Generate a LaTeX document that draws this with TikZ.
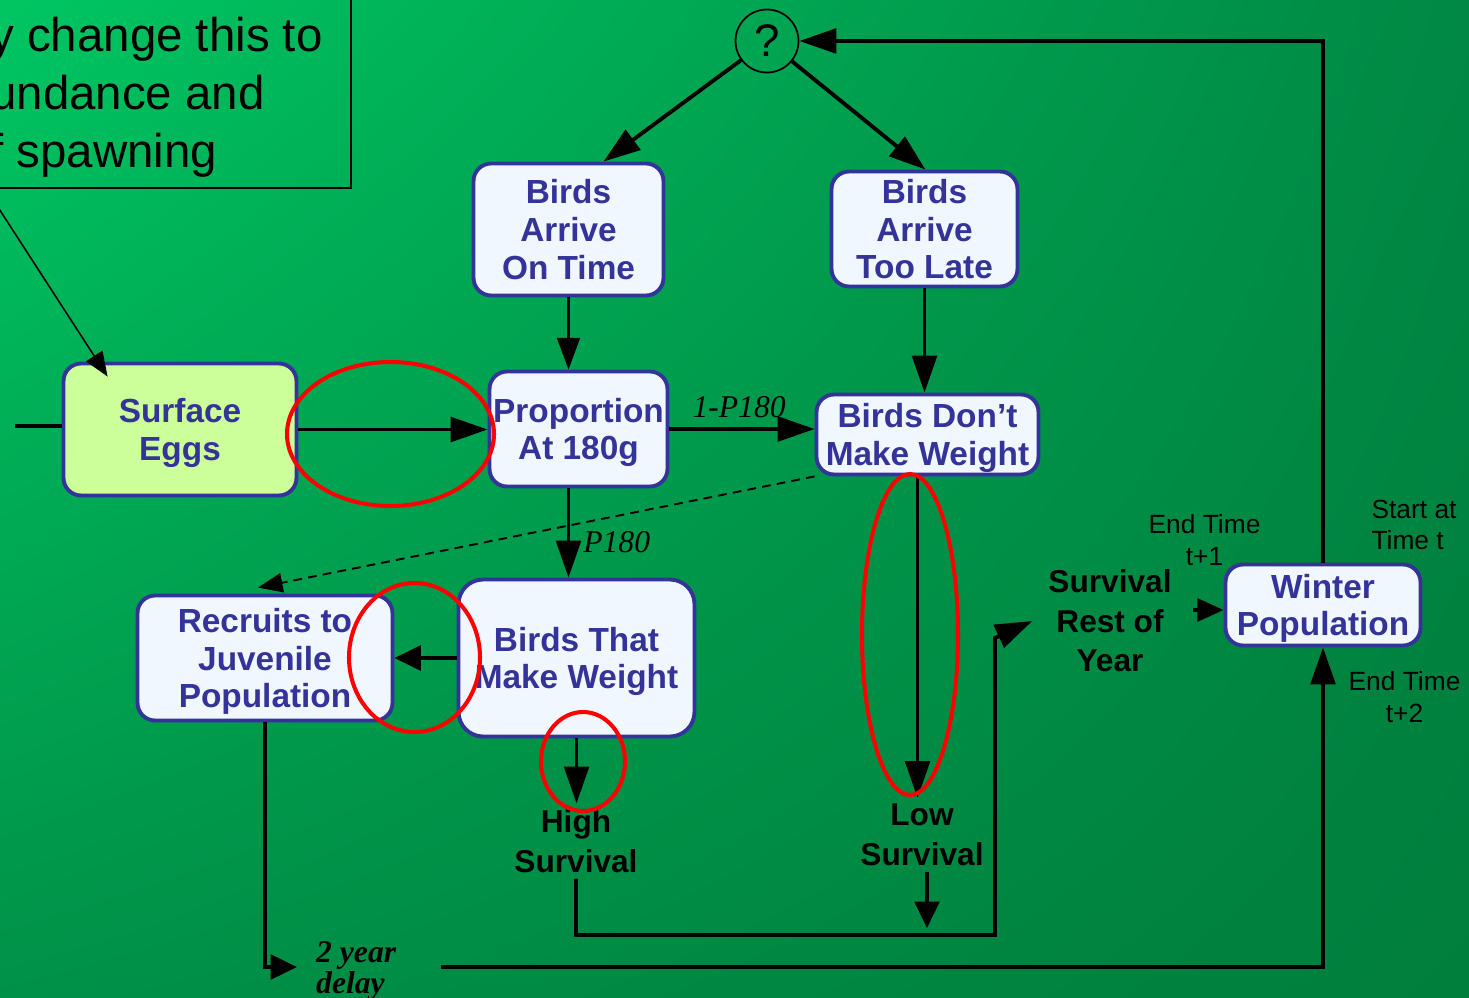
\documentclass[tikz,border=0pt]{standalone}
\usepackage{fontspec}
\setmainfont{Liberation Sans}
\newfontfamily\timesfont{Liberation Serif}
\usetikzlibrary{arrows.meta,calc,shadings}

\definecolor{boxblue}{RGB}{51,51,153}
\definecolor{boxfill}{RGB}{240,247,255}
\definecolor{eggfill}{RGB}{204,255,153}
\definecolor{bgul}{RGB}{0,198,98}
\definecolor{bgur}{RGB}{0,136,68}
\definecolor{bgll}{RGB}{0,145,72}
\definecolor{bglr}{RGB}{0,126,60}

\begin{document}
\begin{tikzpicture}[x=0.02cm,y=-0.02cm,
  box/.style={draw=boxblue,line width=2.2pt,rounded corners=10pt,fill=boxfill,text=boxblue,align=center,inner sep=1pt,text depth=0pt,font=\bfseries\fontsize{19}{21.5}\selectfont},
  lbl/.style={align=center,font=\bfseries\fontsize{18}{22.5}\selectfont},
  smalltxt/.style={align=center,font=\fontsize{15}{18}\selectfont},
  ptxt/.style={font=\timesfont\itshape\fontsize{18}{13}\selectfont},
  flow/.style={line width=2.2pt,-{Triangle[length=21pt,width=14pt]}},
  shortflow/.style={line width=2.2pt,-{Triangle[length=15pt,width=14pt]}},
  ring/.style={draw=red,line width=2.3pt}]
\useasboundingbox (0,0) rectangle (1469,997);
\clip (0,0) rectangle (1469,997);
\shade[upper left=bgul,upper right=bgur,lower left=bgll,lower right=bglr] (0,0) rectangle (1469,997);

% note in the corner
\draw[line width=1pt] (-10,-10) rectangle (351,188);
\node[anchor=base west,align=left,inner sep=0,font=\fontsize{27}{33}\selectfont] (note_txt) at (-10,167) {y change this to\\undance and\\f spawning};
\coordinate (note_tail) at (-8,198);
\coordinate (in_tail) at (15,426);

% boxes
\node[box,fill=eggfill,minimum width=4.66cm,minimum height=2.64cm] (surf_eggs) at (180,429.5) {Surface\\Eggs};
\node[box,minimum width=3.80cm,minimum height=2.64cm] (on_time) at (568.5,229.5) {Birds\\Arrive\\On Time};
\node[box,minimum width=3.72cm,minimum height=2.30cm] (too_late) at (924.5,229) {Birds\\Arrive\\Too Late};
\node[box,minimum width=3.56cm,minimum height=2.30cm] (prop_180) at (578.5,429) {Proportion\\At 180g};
\node[box,minimum width=4.44cm,minimum height=1.60cm] (dont_make) at (927.5,434.5) {Birds Don’t\\Make Weight};
\node[box,rounded corners=14pt,minimum width=4.72cm,minimum height=3.14cm] (make_wt) at (576.5,658) {Birds That\\Make Weight};
\node[box,minimum width=5.10cm,minimum height=2.50cm] (recruits) at (265,658) {Recruits to\\Juvenile\\Population};
\node[box,minimum width=3.90cm,minimum height=1.62cm] (winter) at (1323,605) {Winter\\Population};
\node[draw,circle,line width=1pt,minimum size=1.26cm,inner sep=0,font=\fontsize{26}{26}\selectfont] (qmark) at (767,41) {?};

% plain labels
\node[lbl] (high_surv) at (576,841) {High\\Survival};
\node[lbl] (low_surv) at (922,835) {Low\\Survival};
\node[lbl] (rest_year) at (1110,621) {Survival\\Rest of\\Year};
\node[smalltxt] (end_t1) at (1204.5,540) {End Time\\t+1};
\node[smalltxt,align=left] (start_t) at (1414,525) {Start at\\Time t};
\node[smalltxt] (end_t2) at (1404.5,697) {End Time\\t+2};
\node[ptxt,font=\timesfont\bfseries\itshape\fontsize{18}{13}\selectfont,align=left,anchor=west] (delay) at (310,971) {2 year\\delay};

% connectors
\draw[line width=0.9pt,-{Triangle[length=14pt,width=11pt]}] (note_tail) -- ($(surf_eggs.north west)+(46,15)$);
\draw[line width=2pt] (in_tail) -- (in_tail -| surf_eggs.west);
\draw[flow] (qmark) -- ($(on_time.north)+(35,0)$);
\draw[flow] (qmark) -- ($(too_late.north)+(1,0)$);
\draw[line width=1.2pt,-{Triangle[length=18pt,width=13pt]}] (on_time.south) -- (on_time.south |- prop_180.north);
\draw[flow] (too_late.south) -- (too_late.south |- dont_make.north);
\draw[flow] (surf_eggs.east) -- (surf_eggs.east -| prop_180.west);
\draw[flow] (prop_180.east) -- node[ptxt,above,pos=0.48,yshift=2pt] (lbl_1p) {1-P180} (prop_180.east -| dont_make.west);
\draw[flow] (prop_180.south -| on_time) -- node[ptxt,right,pos=0.6,xshift=4pt] (lbl_p) {P180} (make_wt.north -| on_time);
\draw[line width=1.1pt,dash pattern=on 5pt off 3.5pt,-{Triangle[length=14pt,width=11pt]}] (dont_make.south west) -- ($(recruits.north)+(-7,-6)$);
\draw[shortflow] (make_wt.west) -- (recruits.east);
\draw[flow] (make_wt.south) -- (make_wt.south |- high_surv.north);
\coordinate (low_top) at ($(dont_make.south)+(-10,0)$);
\draw[flow] (low_top) -- (low_top |- low_surv.north);
\draw[shortflow] ($(low_surv.south)+(5,0)$) -- ($(low_surv.south)+(5,56)$);
\draw[flow] (high_surv.south) -- (576,935) -- (995,935) -- (995,638) -- ($(rest_year.west)+(-10,0)$);
\coordinate (rest_out) at (1193,610);
\draw[line width=2.2pt,-{Triangle[length=15pt,width=13pt]}] (rest_out) -- (rest_out -| winter.west);
\draw[flow] (winter.north) -- (winter.north |- qmark) -- (qmark);
\coordinate (delay_in) at (297,967);
\coordinate (delay_out) at (441,967);
\draw[shortflow] (recruits.south) -- (recruits.south |- delay_in) -- (delay_in);
\draw[flow] (delay_out) -- (delay_out -| winter.south) -- (winter.south);

% red marks
\draw[ring] (390.5,434) ellipse [x radius=103.5,y radius=72];
\draw[ring] (414.5,657.5) ellipse [x radius=65.5,y radius=74.5];
\draw[ring] (583,761.5) ellipse [x radius=42,y radius=49.5];
\draw[ring] (910,634.5) ellipse [x radius=48,y radius=160.5];
\end{tikzpicture}
\end{document}
